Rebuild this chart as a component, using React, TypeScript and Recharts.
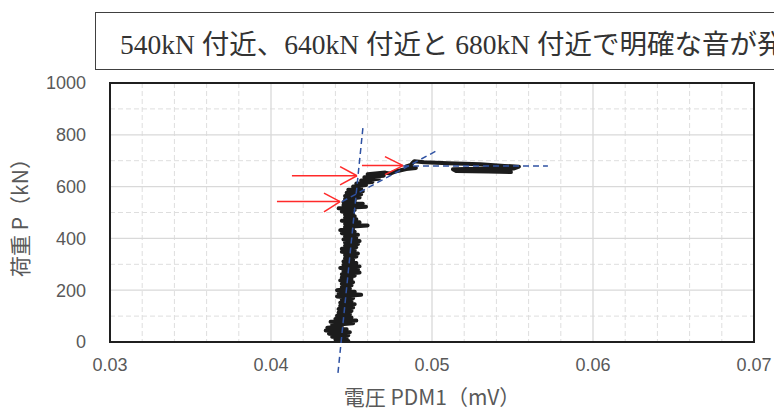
import React from 'react';
import {
  ComposedChart,
  Line,
  XAxis,
  YAxis,
  CartesianGrid,
  ReferenceLine,
  ReferenceArea,
} from 'recharts';

// axis ticks (major) and minor grid values
const xTicks = [0.03, 0.04, 0.05, 0.06, 0.07];
const yTicks = [0, 200, 400, 600, 800, 1000];
const xMinor = [
  0.032, 0.034, 0.036, 0.038, 0.042, 0.044, 0.046, 0.048,
  0.052, 0.054, 0.056, 0.058, 0.062, 0.064, 0.066, 0.068,
];
const yMinor = [100, 300, 500, 700, 900];

// measured trace: load P (kN) vs voltage PDM1 (mV), in recording order
const loadKN = [
  0, 4, 10, 15, 20, 26, 32, 38, 44, 49, 55, 60, 66, 72, 78, 83, 89, 95, 101, 108,
  114, 120, 127, 133, 140, 146, 152, 158, 164, 170, 176, 182, 188, 194, 200, 206, 212, 219, 225, 231,
  238, 244, 250, 256, 262, 268, 274, 280, 286, 292, 298, 305, 311, 317, 323, 330, 336, 342, 348, 354,
  360, 366, 372, 378, 384, 390, 396, 402, 408, 414, 420, 426, 432, 438, 444, 450, 456, 462, 468, 474,
  480, 486, 492, 498, 504, 510, 516, 522, 528, 534, 540, 546, 552, 558, 564, 570, 576, 582, 588, 594,
  600, 606, 612, 618, 624, 630, 636, 642, 648, 654,
  650, 658, 662, 668, 672, 678, 684, 692, 698, 694, 690, 686, 680, 677,
  670, 669, 667, 660, 658, 656, 660,
];
const voltMV = [
  0.0441, 0.0448, 0.044, 0.0447, 0.0438, 0.0448, 0.0436, 0.0449, 0.0434, 0.0447, 0.0435, 0.0444, 0.0438, 0.0451, 0.0437, 0.0453, 0.044, 0.045, 0.0441, 0.0449,
  0.0442, 0.045, 0.0442, 0.0451, 0.0443, 0.0452, 0.0443, 0.045, 0.0444, 0.0451, 0.0441, 0.0456, 0.0442, 0.0452, 0.0441, 0.0449, 0.0444, 0.045, 0.0444, 0.0451,
  0.0443, 0.045, 0.0444, 0.0452, 0.0444, 0.0455, 0.0445, 0.0454, 0.0443, 0.0455, 0.0445, 0.0453, 0.0445, 0.0451, 0.0446, 0.0453, 0.0446, 0.0454, 0.0444, 0.0452,
  0.0444, 0.0453, 0.0446, 0.0454, 0.0446, 0.0455, 0.0445, 0.0453, 0.0446, 0.0454, 0.0444, 0.0452, 0.0443, 0.0451, 0.0446, 0.046, 0.0446, 0.0455, 0.0444, 0.0453,
  0.0446, 0.0452, 0.0446, 0.0451, 0.0444, 0.0452, 0.0442, 0.0459, 0.0445, 0.0457, 0.0445, 0.0452, 0.0446, 0.0455, 0.0446, 0.0456, 0.0447, 0.0457, 0.0448, 0.0456,
  0.0451, 0.0459, 0.0453, 0.0463, 0.0456, 0.0467, 0.0458, 0.047, 0.046, 0.0471,
  0.0474, 0.0477, 0.048, 0.0484, 0.049, 0.0484, 0.0487, 0.0488, 0.0489, 0.0495, 0.051, 0.053, 0.0545, 0.0554,
  0.0551, 0.053, 0.0513, 0.0515, 0.0535, 0.0549, 0.054,
];

// dashed fit lines: [start, end]
const fitSteepV = [0.04416, 0.04571];
const fitSteepP = [-119, 828];
const fitKneeV = [0.04441, 0.05031];
const fitKneeP = [542, 739];
const fitFlatV = [0.0482, 0.0572];
const fitFlatP = [680, 680];

// red arrows marking audible events
const arrowTailV = [0.04037, 0.0413, 0.04565];
const arrowTipV = [0.04429, 0.04534, 0.0482];
const arrowTipP = [542, 642, 681];
const arrowWingV = [0.04329, 0.04429, 0.04708];
const arrowWingHiP = [575, 677, 716];
const arrowWingLoP = [502, 607, 646];

const trace = loadKN.map((p, i) => ({ v: voltMV[i], p }));

const tickStyle = { fill: '#595959', fontSize: 18, fontFamily: "'Liberation Sans', Arial, sans-serif" };
const titleFont = "'Noto Sans CJK JP', sans-serif";
const fitStyle = { stroke: '#2f52a3', strokeWidth: 1.5, strokeDasharray: '6 4' };
const arrowStyle = { stroke: '#ff2a2a', strokeWidth: 1.5 };

export default function App() {
  return (
    <div
      style={{
        position: 'fixed',
        left: 0,
        top: 0,
        width: 774,
        height: 412,
        overflow: 'hidden',
        background: '#fff',
      }}
    >
      <ComposedChart width={774} height={412} data={trace} margin={{ top: 83, right: 20, bottom: 0, left: 10 }}>
        <CartesianGrid stroke="#dedede" strokeDasharray="5 3" verticalValues={xMinor} horizontalValues={yMinor} />
        <CartesianGrid stroke="#d9d9d9" strokeWidth={1.3} verticalValues={xTicks} horizontalValues={yTicks} />
        <XAxis
          type="number"
          dataKey="v"
          domain={[0.03, 0.07]}
          allowDataOverflow
          ticks={xTicks}
          interval={0}
          tickFormatter={(v: number) => v.toFixed(2)}
          axisLine={false}
          tickLine={false}
          tickSize={0}
          tickMargin={16}
          height={70}
          tick={tickStyle}
          label={{
            value: '電圧 PDM1（mV）',
            position: 'insideBottom',
            offset: 7,
            fill: '#595959',
            fontSize: 21,
            fontFamily: titleFont,
          }}
        />
        <YAxis
          type="number"
          domain={[0, 1000]}
          allowDataOverflow
          ticks={yTicks}
          interval={0}
          axisLine={false}
          tickLine={false}
          tickSize={0}
          tickMargin={24}
          width={100}
          tick={tickStyle}
          label={{
            value: '荷重 P（kN）',
            angle: -90,
            position: 'insideLeft',
            offset: 11,
            fill: '#595959',
            fontSize: 21,
            fontFamily: titleFont,
            style: { textAnchor: 'middle' },
          }}
        />
        <ReferenceArea x1={0.03} x2={0.07} y1={0} y2={1000} fill="none" stroke="#1f1f1f" strokeWidth={2} />
        <Line
          dataKey="p"
          stroke="#1c1c1c"
          strokeWidth={4}
          dot={false}
          activeDot={false}
          strokeLinejoin="round"
          isAnimationActive={false}
        />
        <ReferenceLine
          segment={[{ x: fitSteepV[0], y: fitSteepP[0] }, { x: fitSteepV[1], y: fitSteepP[1] }]}
          ifOverflow="visible"
          {...fitStyle}
        />
        <ReferenceLine
          segment={[{ x: fitKneeV[0], y: fitKneeP[0] }, { x: fitKneeV[1], y: fitKneeP[1] }]}
          ifOverflow="visible"
          {...fitStyle}
        />
        <ReferenceLine
          segment={[{ x: fitFlatV[0], y: fitFlatP[0] }, { x: fitFlatV[1], y: fitFlatP[1] }]}
          ifOverflow="visible"
          {...fitStyle}
        />
        {arrowTipV.map((tip, i) => [
          <ReferenceLine
            key={`shaft${i}`}
            segment={[{ x: arrowTailV[i], y: arrowTipP[i] }, { x: tip, y: arrowTipP[i] }]}
            ifOverflow="visible"
            {...arrowStyle}
          />,
          <ReferenceLine
            key={`hi${i}`}
            segment={[{ x: arrowWingV[i], y: arrowWingHiP[i] }, { x: tip, y: arrowTipP[i] }]}
            ifOverflow="visible"
            {...arrowStyle}
          />,
          <ReferenceLine
            key={`lo${i}`}
            segment={[{ x: arrowWingV[i], y: arrowWingLoP[i] }, { x: tip, y: arrowTipP[i] }]}
            ifOverflow="visible"
            {...arrowStyle}
          />,
        ])}
      </ComposedChart>
      <div
        style={{
          position: 'absolute',
          left: 95,
          top: 12,
          width: 720,
          height: 58,
          boxSizing: 'border-box',
          border: '1.5px solid #404040',
          background: '#fff',
          paddingLeft: 24,
          paddingTop: 17,
          whiteSpace: 'nowrap',
          fontFamily: "'Liberation Serif', 'Noto Sans CJK JP', serif",
          fontSize: 27.5,
          lineHeight: '30px',
          color: '#333',
        }}
      >
        540kN 付近、640kN 付近と 680kN 付近で明確な音が発
      </div>
    </div>
  );
}
